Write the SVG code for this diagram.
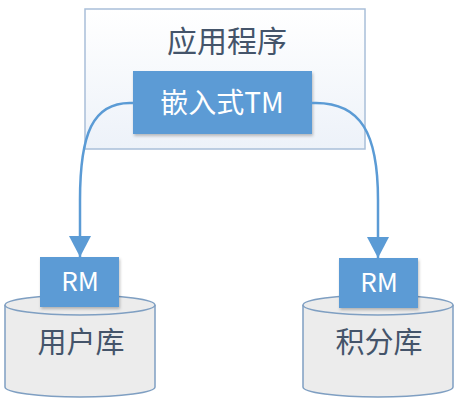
<svg xmlns="http://www.w3.org/2000/svg" width="468" height="403" viewBox="0 0 468 403">
<defs>
<linearGradient id="g" x1="0" y1="0" x2="0" y2="1"><stop offset="0" stop-color="#ffffff"/><stop offset="1" stop-color="#edf2f9"/></linearGradient>
<marker id="arr" markerUnits="userSpaceOnUse" markerWidth="24" markerHeight="24" viewBox="0 0 24 24" refX="22" refY="12" orient="auto"><path d="M1,1 L22,12 L1,23 Z" fill="#5b9bd5"/></marker>
<filter id="sh" x="-10%" y="-10%" width="130%" height="140%"><feDropShadow dx="1" dy="2" stdDeviation="1.5" flood-color="#000" flood-opacity="0.25"/></filter>
<style>
.cjk{font-family:"Noto Sans CJK SC","Liberation Sans",sans-serif;text-anchor:middle}
.blue{fill:#5b9bd5}
.wt{fill:#ffffff}
.dk{fill:#44546a}
.cyl{fill:#ececec;stroke:#7f9fc2;stroke-width:1.5}
.conn{fill:none;stroke:#5b9bd5;stroke-width:2.5}
</style>
</defs>
<g id="app">
<rect x="85" y="9" width="280" height="140" fill="url(#g)" stroke="#a9bfd9" stroke-width="1.5"/>
<text class="cjk dk" x="227" y="52" font-size="30">应用程序</text>
</g>
<g id="tm">
<rect class="blue" x="133" y="71" width="179" height="63" filter="url(#sh)"/>
<text class="cjk wt" x="222" y="113" font-size="28">嵌入式TM</text>
</g>
<g id="db1">
<path class="cyl" d="M5,305 L5,387 A75,10 0 0 0 155,387 L155,305"/>
<ellipse class="cyl" cx="80" cy="305" rx="75" ry="10"/>
<text class="cjk dk" x="81" y="353" font-size="29">用户库</text>
</g>
<g id="db2">
<path class="cyl" d="M303,305 L303,387 A75,10 0 0 0 453,387 L453,305"/>
<ellipse class="cyl" cx="378" cy="305" rx="75" ry="10"/>
<text class="cjk dk" x="379" y="353" font-size="29">积分库</text>
</g>
<g id="rm1">
<rect class="blue" x="40" y="257" width="79" height="50" filter="url(#sh)"/>
<text class="cjk wt" x="80" y="291" font-size="26">RM</text>
</g>
<g id="rm2">
<rect class="blue" x="339" y="258" width="79" height="50" filter="url(#sh)"/>
<text class="cjk wt" x="379" y="292" font-size="26">RM</text>
</g>
<g id="connectors">
<path class="conn" d="M133,103 C92,101 80,135 80,200 L80,257" marker-end="url(#arr)"/>
<path class="conn" d="M312,103 C362,101 378,135 378,200 L378,258" marker-end="url(#arr)"/>
</g>
</svg>
